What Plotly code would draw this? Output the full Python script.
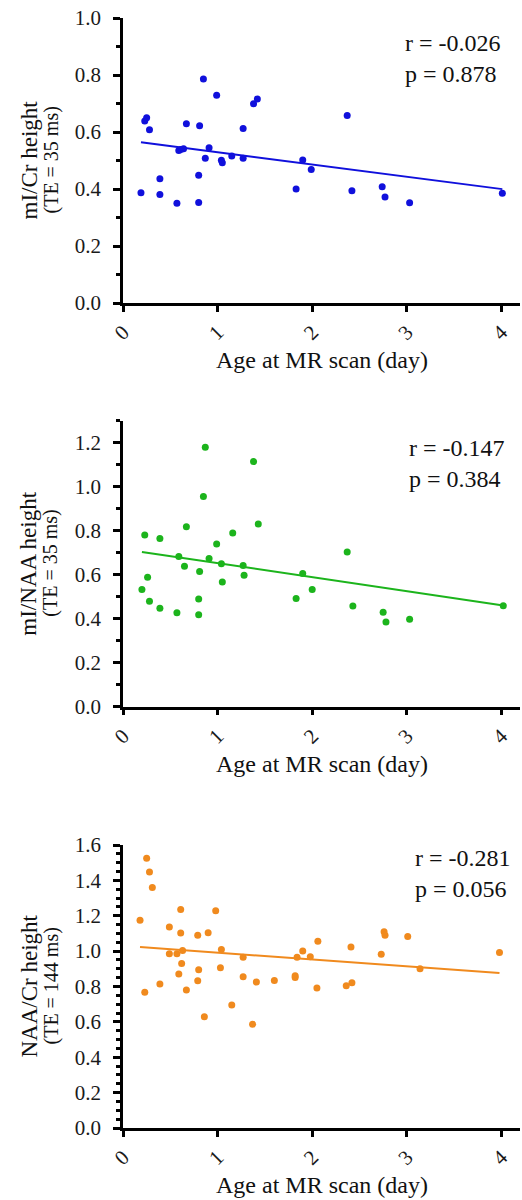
import plotly.graph_objects as go

# ---------------- data ----------------
age_mi_cr = [0.19, 0.23, 0.25, 0.28, 0.39, 0.39, 0.57, 0.59, 0.61, 0.64, 0.67, 0.80, 0.80, 0.81,
             0.85, 0.87, 0.91, 0.99, 1.04, 1.05, 1.15, 1.27, 1.27, 1.38, 1.42, 1.83, 1.90, 1.99,
             2.37, 2.42, 2.74, 2.77, 3.03, 4.01]
mi_cr = [0.387, 0.639, 0.650, 0.608, 0.436, 0.381, 0.350, 0.535, 0.539, 0.541, 0.629, 0.448,
         0.353, 0.622, 0.786, 0.508, 0.545, 0.729, 0.501, 0.492, 0.516, 0.612, 0.508, 0.699,
         0.716, 0.400, 0.502, 0.468, 0.658, 0.394, 0.408, 0.372, 0.352, 0.385]
fit_mi_cr = (0.572, -0.043)  # intercept, slope

age_mi_naa = [0.20, 0.23, 0.26, 0.28, 0.39, 0.39, 0.57, 0.59, 0.65, 0.67, 0.80, 0.80, 0.81,
              0.85, 0.87, 0.91, 0.99, 1.04, 1.05, 1.16, 1.27, 1.28, 1.38, 1.43, 1.83, 1.90,
              2.00, 2.37, 2.43, 2.75, 2.78, 3.03, 4.02]
mi_naa = [0.533, 0.780, 0.588, 0.479, 0.765, 0.448, 0.427, 0.683, 0.638, 0.818, 0.489, 0.418,
          0.614, 0.956, 1.179, 0.674, 0.739, 0.650, 0.567, 0.789, 0.642, 0.597, 1.114, 0.830,
          0.492, 0.606, 0.533, 0.703, 0.458, 0.429, 0.385, 0.397, 0.459]
fit_mi_naa = (0.716, -0.0636)

age_naa_cr = [0.18, 0.23, 0.25, 0.28, 0.31, 0.39, 0.49, 0.49, 0.57, 0.59, 0.61, 0.61, 0.62,
              0.63, 0.67, 0.79, 0.79, 0.80, 0.86, 0.90, 0.98, 1.03, 1.04, 1.15, 1.27, 1.27,
              1.37, 1.41, 1.60, 1.82, 1.82, 1.84, 1.90, 1.98, 2.05, 2.06, 2.36, 2.41, 2.42,
              2.73, 2.76, 2.77, 3.01, 3.14, 3.98]
naa_cr = [1.175, 0.768, 1.525, 1.448, 1.360, 0.814, 1.136, 0.985, 0.985, 0.870, 1.235, 1.102,
          0.930, 1.004, 0.780, 0.832, 1.090, 0.895, 0.629, 1.104, 1.228, 0.906, 1.009, 0.695,
          0.966, 0.855, 0.586, 0.825, 0.834, 0.851, 0.861, 0.966, 1.000, 0.968, 0.791, 1.056,
          0.804, 1.023, 0.821, 0.983, 1.109, 1.090, 1.083, 0.900, 0.992]
fit_naa_cr = (1.030, -0.0387)

stats = [("r = -0.026", "p = 0.878"), ("r = -0.147", "p = 0.384"), ("r = -0.281", "p = 0.056")]
y_titles = [("mI/Cr height", "(TE = 35 ms)"), ("mI/NAA height", "(TE = 35 ms)"),
            ("NAA/Cr height", "(TE = 144 ms)")]
x_title = "Age at MR scan (day)"
x_ticks = [0, 1, 2, 3, 4]
y_ranges = [(0, 1.0), (0, 1.3), (0, 1.6)]
y_minor = [0.1, 0.1, 0.05]
colors = ["#1010DC", "#1CB41C", "#F08A1E"]

W, H = 522, 1200
FONT = "Liberation Serif"

# pixel layout of each panel: (top, bottom)
panels_px = [(18, 303), (420.7, 706.7), (845, 1128)]
x_left_px, x_right_px = 123, 520.3
stats_left_px = [403, 407, 413]
stats_yshift = [-10, -12, 2]

fig = go.Figure()
datasets = [(age_mi_cr, mi_cr, fit_mi_cr), (age_mi_naa, mi_naa, fit_mi_naa),
            (age_naa_cr, naa_cr, fit_naa_cr)]

for i, (xs, ys, (b0, b1)) in enumerate(datasets):
    n = i + 1
    xa = "x" if n == 1 else f"x{n}"
    ya = "y" if n == 1 else f"y{n}"
    fig.add_trace(go.Scatter(x=xs, y=ys, mode="markers", xaxis=xa, yaxis=ya,
                             marker=dict(size=7, color=colors[i]), showlegend=False,
                             cliponaxis=False))
    x0, x1 = min(xs), max(xs)
    fig.add_trace(go.Scatter(x=[x0, x1], y=[b0 + b1 * x0, b0 + b1 * x1], mode="lines",
                             xaxis=xa, yaxis=ya, line=dict(color=colors[i], width=2),
                             showlegend=False))
    top, bot = panels_px[i]
    axis_common = dict(showline=True, linewidth=2.5, linecolor="black", showgrid=False,
                       zeroline=False, ticks="outside", tickwidth=2.5, tickcolor="black",
                       automargin=False,
                       tickfont=dict(family=FONT, size=21, color="#1a1a1a"))
    xkey = "xaxis" if n == 1 else f"xaxis{n}"
    ykey = "yaxis" if n == 1 else f"yaxis{n}"
    fig.update_layout(**{
        xkey: dict(axis_common, domain=[x_left_px / W, x_right_px / W], range=[0, 4.2],
                   tickvals=x_ticks, ticktext=[str(t) for t in x_ticks], ticklen=6,
                   tickangle=-45, anchor=ya),
        ykey: dict(axis_common, domain=[1 - bot / H, 1 - top / H], range=list(y_ranges[i]),
                   dtick=0.2, tickformat=".1f", ticklen=7, ticklabelstandoff=8,
                   minor=dict(dtick=y_minor[i], ticklen=4, tickwidth=2.5, tickcolor="black",
                              ticks="outside"),
                   anchor=xa),
    })
    xd = f"{xa} domain"
    yd = f"{ya} domain"
    # stats annotation
    fig.add_annotation(x=stats_left_px[i] / W, y=1, xref="paper", yref=yd, xanchor="left",
                       yanchor="top", yshift=stats_yshift[i],
                       text=f"{stats[i][0]}<br>{stats[i][1]}", showarrow=False, align="left",
                       font=dict(family=FONT, size=24, color="#111"))
    # x title
    fig.add_annotation(x=0.5, y=0, xref=xd, yref=yd, xanchor="center", yanchor="middle",
                       yshift=-57, text=x_title, showarrow=False,
                       font=dict(family=FONT, size=24, color="#111"))
    # y titles (two lines)
    mid = 1 - (top + bot) / 2 / H
    fig.add_annotation(x=29 / W, y=mid, xref="paper", yref="paper", textangle=-90,
                       text=y_titles[i][0], showarrow=False, xanchor="center",
                       yanchor="middle", font=dict(family=FONT, size=23, color="#111"))
    fig.add_annotation(x=51 / W, y=mid, xref="paper", yref="paper", textangle=-90,
                       text=y_titles[i][1], showarrow=False, xanchor="center",
                       yanchor="middle", font=dict(family=FONT, size=20, color="#111"))

fig.update_layout(width=W, height=H, margin=dict(l=0, r=0, t=0, b=0, autoexpand=False),
                  plot_bgcolor="white", paper_bgcolor="white",
                  font=dict(family=FONT, color="#111"))

fig.write_html("out.html", config={"displayModeBar": False},
               post_script="document.body.style.margin='0';")
